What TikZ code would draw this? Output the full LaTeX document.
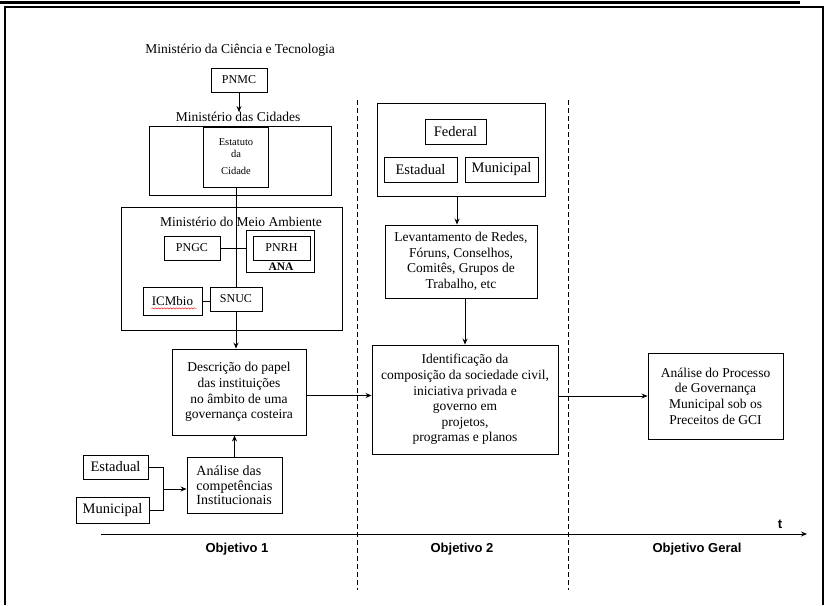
\documentclass[tikz,border=0pt]{standalone}
\usepackage{fontspec}
\setmainfont{Liberation Serif}
\setsansfont{Liberation Sans}
\usepackage{tikz}
\usetikzlibrary {arrows.meta,
                 positioning,
                 decorations.pathmorphing}
\tikzset{
        caixa/.style={draw, rectangle, align=center, fill=white,
                      line width=0.9pt, inner sep=0pt,
                      font=\fontsize{13.5}{15.6}\selectfont},
        rotulo/.style={caixa, font=\fontsize{12}{14}\selectfont},
        esfera/.style={caixa, font=\fontsize{14.5}{16}\selectfont},
        grupo/.style={draw, rectangle, line width=0.9pt, inner sep=0pt},
        titulo/.style={inner sep=0pt, font=\fontsize{13.5}{15}\selectfont},
        myarrow/.style={-{Stealth[length=6pt, width=5pt]}, line width=0.9pt},
        liga/.style={line width=0.9pt},
        divisa/.style={dash pattern=on 5pt off 3pt, line width=0.9pt},
        objetivo/.style={font=\sffamily\bfseries\fontsize{13}{15}\selectfont},
 }

\begin{document}
\begin{tikzpicture}[x=1pt, y=-1pt]
    \useasboundingbox (0,0) rectangle (827,605);

    % moldura
    \draw[line width=3pt] (0,2.5) -- (800,2.5);
    \draw[line width=2pt] (5,605) -- (5,7) -- (823,7) -- (823,605);

    % Objetivo 1
    \node[titulo] (tmct) at (240,50) {Ministério da Ciência e Tecnologia};

    \node[rotulo, minimum width=56pt, minimum height=24pt] (pnmc) at (239,80) {PNMC};

    \node[titulo] (tcid) at (238,117) {Ministério das Cidades};

    \node[grupo, minimum width=182pt, minimum height=69pt] (cidades) at (240,160.5) {};

    \node[caixa, minimum width=65pt, minimum height=60pt,
          font=\fontsize{10.5}{12}\selectfont] (estatuto) at (236,157)
    {Estatuto\\da\\[5pt]Cidade};

    \node[grupo, minimum width=221pt, minimum height=123pt] (mma) at (231.5,268.5) {};

    \node[titulo] (tmma) at (241,222) {Ministério do Meio Ambiente};

    \node[rotulo, minimum width=56pt, minimum height=24pt] (pngc) at (192,248) {PNGC};

    \node[grupo, minimum width=68pt, minimum height=42pt] (ana) at (280,251) {};

    \node[rotulo, minimum width=57pt, minimum height=24pt] (pnrh) at (281.5,248) {PNRH};

    \node[inner sep=0pt, font=\bfseries\fontsize{11.5}{12}\selectfont] (tana)
          at (281,267) {ANA};

    \node[rotulo, minimum width=59pt, minimum height=28pt,
          font=\fontsize{13}{14}\selectfont] (icmbio) at (172.5,301) {ICMbio};

    \node[rotulo, minimum width=52pt, minimum height=24pt] (snuc) at (236,299) {SNUC};

    \node[caixa, minimum width=134pt, minimum height=86pt] (descricao) at (239,392)
    {Descrição do papel\\
     das instituições\\
     no âmbito de uma\\
     governança costeira};

    \node[caixa, minimum width=95pt, minimum height=56pt, align=left,
          font=\fontsize{14}{14.5}\selectfont] (competencias) at (234.5,485.5)
    {Análise das\\
     competências\\
     Institucionais};

    \node[esfera, minimum width=65pt, minimum height=24pt] (estadual1) at (115.5,467) {Estadual};

    \node[esfera, minimum width=73pt, minimum height=26pt] (municipal1) at (112.5,510) {Municipal};

    \coordinate (junta) at (163,489);

    % Objetivo 2
    \node[grupo, minimum width=168pt, minimum height=93pt] (esferas) at (461,149.5) {};

    \node[esfera, minimum width=61pt, minimum height=25pt] (federal) at (455.5,131.5) {Federal};

    \node[esfera, minimum width=73pt, minimum height=25pt] (estadual2) at (420.5,169.5) {Estadual};

    \node[esfera, minimum width=73pt, minimum height=25pt] (municipal2) at (501.5,169.5) {Municipal};

    \node[caixa, minimum width=152pt, minimum height=73pt] (levantamento) at (461,261.5)
    {Levantamento de Redes,\\
     Fóruns, Conselhos,\\
     Comitês, Grupos de\\
     Trabalho, etc};

    \node[caixa, minimum width=186pt, minimum height=109pt] (identificacao) at (465,399.5)
    {Identificação da\\
     composição da sociedade civil,\\
     iniciativa privada e\\
     governo em\\
     projetos,\\
     programas e planos};

    % Objetivo Geral
    \node[caixa, minimum width=135pt, minimum height=86pt] (processo) at (715.5,396)
    {Análise do Processo\\
     de Governança\\
     Municipal sob os\\
     Preceitos de GCI};

    % ligacoes
    \draw[myarrow] (pnmc) -- (pnmc.south |- tcid.north);
    \draw[liga] (estatuto) -- (snuc);
    \draw[myarrow] (snuc.south) -- (snuc.south |- descricao.north);
    \draw[liga] (pngc.east) -- (pngc.east -| ana.west);
    \draw[liga] (icmbio.east) -- (icmbio.east -| snuc.west);
    \draw[red, decorate, decoration={snake, amplitude=0.7pt, segment length=3pt}]
        ([xshift=-21pt, yshift=-3pt]icmbio.base) -- ([xshift=24pt, yshift=-3pt]icmbio.base);
    \draw[liga] (estadual1.east) -| (junta);
    \draw[liga] (municipal1.east) -| (junta);
    \draw[myarrow] (junta) -- (junta -| competencias.west);
    \draw[myarrow] (competencias.north) -- (competencias.north |- descricao.south);
    \draw[myarrow] ([yshift=-3.5pt]descricao.east) -- ([yshift=-3.5pt]descricao.east -| identificacao.west);
    \draw[myarrow] ([xshift=-4pt]esferas.south) -- ([xshift=-4pt]levantamento.north);
    \draw[myarrow] (identificacao.north |- levantamento.south) -- (identificacao.north);
    \draw[myarrow] (identificacao.east |- processo.west) -- (processo.west);

    % eixo do tempo
    \draw[divisa] (357.5,100) -- (357.5,590);
    \draw[divisa] (568,100) -- (568,590);
    \coordinate (inicio) at (101,534);
    \coordinate (fim) at (807,534);
    \draw[myarrow] (inicio) -- (fim);
    \node[objetivo] (tempo) at (780,524) {t};

    \node[objetivo] (obj1) at (237,549) {Objetivo 1};
    \node[objetivo] (obj2) at (462,549) {Objetivo 2};
    \node[objetivo] (objg) at (697,549) {Objetivo Geral};

\end{tikzpicture}
\end{document}
